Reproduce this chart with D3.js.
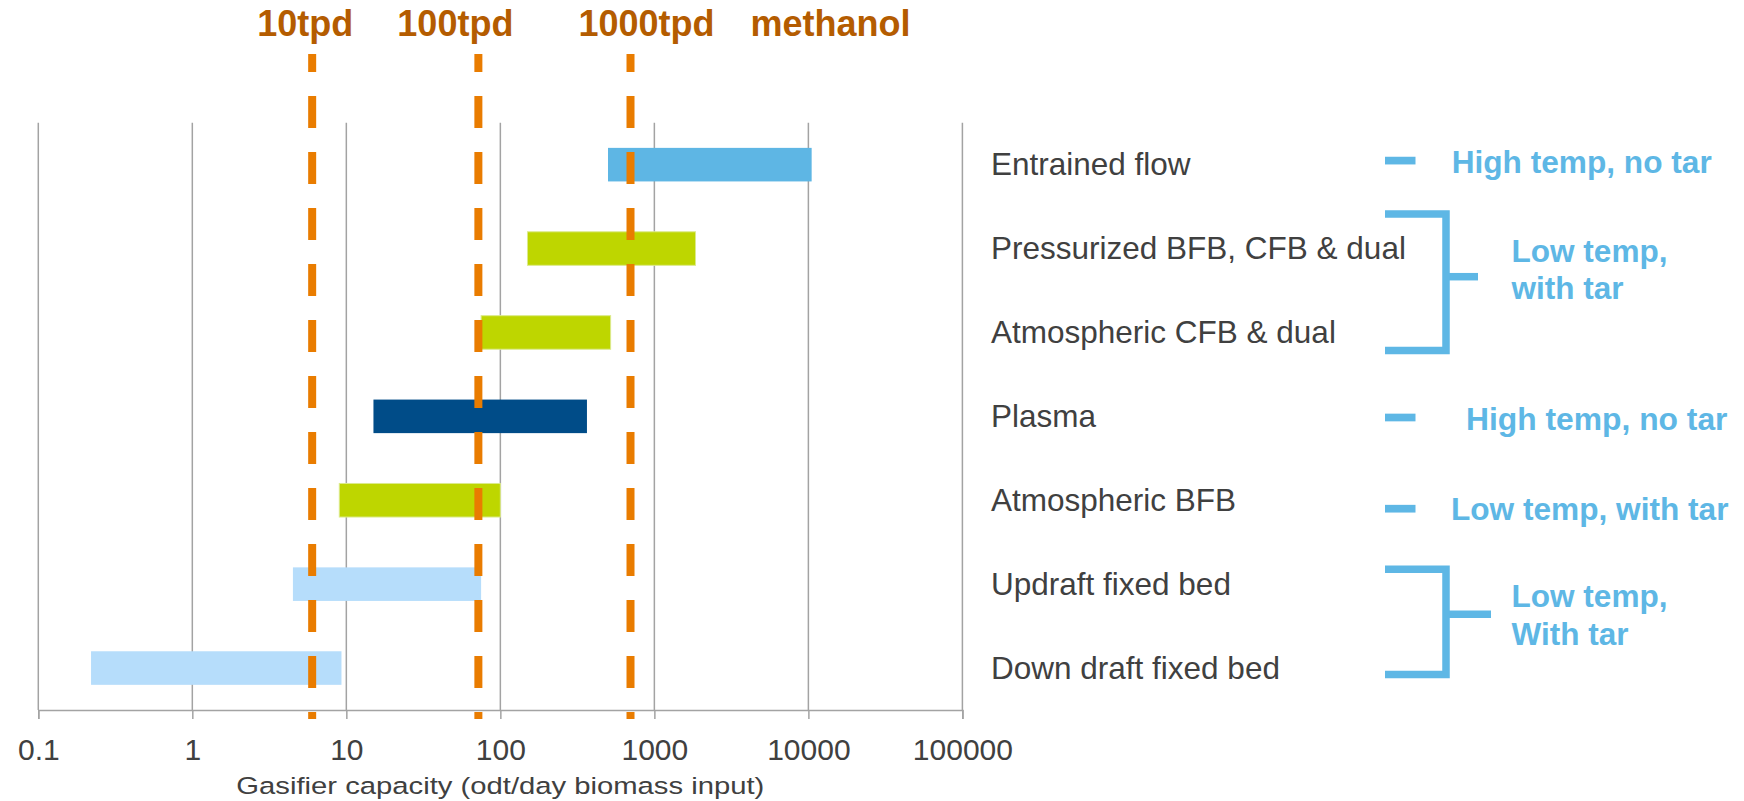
<!DOCTYPE html>
<html>
<head>
<meta charset="utf-8">
<script src="https://cdn.jsdelivr.net/npm/d3@7"></script>
<style>
  html, body { margin: 0; padding: 0; background: #ffffff; }
  svg { display: block; }
  text { font-family: "Liberation Sans", Arial, Helvetica, sans-serif; }
</style>
</head>
<body>
<svg id="chart" width="1744" height="801"></svg>
<script>
// Gasifier technologies and their capacity ranges (odt/day biomass input)
const categories = [
  "Entrained flow",
  "Pressurized BFB, CFB & dual",
  "Atmospheric CFB & dual",
  "Plasma",
  "Atmospheric BFB",
  "Updraft fixed bed",
  "Down draft fixed bed"
];
const capacityLow  = [500, 150, 75, 15, 9, 4.5, 0.22];
const capacityHigh = [10500, 1850, 520, 365, 100, 75, 9.3];
const gasifierKind = ["entrained", "fluid", "fluid", "plasma", "fluid", "fixed", "fixed"];

// Methanol plant sizes expressed as biomass input
const methanolInput  = [6, 72, 700];
const methanolLabels = ["10tpd", "100tpd", "1000tpd"];
const methanolHeader = "methanol";

// Log axis ticks
const tickValues = [0.1, 1, 10, 100, 1000, 10000, 100000];
const tickLabels = ["0.1", "1", "10", "100", "1000", "10000", "100000"];
const axisTitle = "Gasifier capacity (odt/day biomass input)";

// Tar / temperature grouping of the rows
const groupRows   = [[0, 0], [1, 2], [3, 3], [4, 4], [5, 6]];
const groupLabels = [
  ["High temp, no tar"],
  ["Low temp,", "with tar"],
  ["High temp, no tar"],
  ["Low temp, with tar"],
  ["Low temp,", "With tar"]
];

// ---- styling and layout ----
const kindColor = {
  entrained: "#5eb6e4",
  fluid: "#bed600",
  plasma: "#004c88",
  fixed: "#b6ddfb"
};
const gray = "#a3a3a3";
const textGray = "#404040";
const annBlue = "#5eb7e5";
const orangeLine = "#e97c00";
const orangeText = "#b45c00";

const plotLeft = 38.3, plotRight = 962.4, plotTop = 122.7, plotBottom = 710;

const svg = d3.select("#chart");

const x = d3.scaleLog().domain([0.1, 100000]).range([plotLeft, plotRight]);
const y = d3.scaleBand()
  .domain(categories)
  .range([plotTop, plotBottom])
  .paddingInner(0.6)
  .paddingOuter(0.3);
const rowCenter = i => y(categories[i]) + y.bandwidth() / 2;

// vertical gridlines
svg.append("g")
  .selectAll("line")
  .data(tickValues)
  .join("line")
  .attr("x1", d => x(d)).attr("x2", d => x(d))
  .attr("y1", plotTop).attr("y2", plotBottom)
  .attr("stroke", gray).attr("stroke-width", 1.5);

// bottom axis
const axis = svg.append("g")
  .attr("transform", `translate(0,${plotBottom})`)
  .call(d3.axisBottom(x).tickValues(tickValues).tickSize(9).tickFormat((d, i) => tickLabels[i]));
axis.select(".domain").attr("stroke", gray).attr("stroke-width", 1.5);
axis.selectAll(".tick line").attr("stroke", gray).attr("stroke-width", 1.5);
axis.selectAll(".tick text")
  .attr("y", 50).attr("dy", 0)
  .attr("fill", textGray)
  .style("font-size", "30px")
  .style("font-family", "'Liberation Sans', Arial, sans-serif");

// axis title
svg.append("text")
  .attr("x", (plotLeft + plotRight) / 2)
  .attr("y", 794)
  .attr("text-anchor", "middle")
  .attr("fill", textGray)
  .attr("textLength", 528)
  .attr("lengthAdjust", "spacingAndGlyphs")
  .style("font-size", "24.5px")
  .text(axisTitle);

// capacity range bars
svg.append("g")
  .selectAll("rect")
  .data(categories)
  .join("rect")
  .attr("x", (d, i) => x(capacityLow[i]))
  .attr("width", (d, i) => x(capacityHigh[i]) - x(capacityLow[i]))
  .attr("y", d => y(d))
  .attr("height", y.bandwidth())
  .attr("fill", (d, i) => kindColor[gasifierKind[i]])
  .attr("stroke", (d, i) => gasifierKind[i] === "fluid" ? "#dcea8c" : "none")
  .attr("stroke-width", 1);

// methanol plant size reference lines (dashed)
svg.append("g")
  .selectAll("line")
  .data(methanolInput)
  .join("line")
  .attr("x1", d => x(d)).attr("x2", d => x(d))
  .attr("y1", 54).attr("y2", 719)
  .attr("stroke", orangeLine)
  .attr("stroke-width", 8)
  .attr("stroke-dasharray", "32,24")
  .attr("stroke-dashoffset", 14);

// labels above the reference lines
const lineLabelShift = [-7, -23, 16];
svg.append("g")
  .selectAll("text")
  .data(methanolLabels)
  .join("text")
  .attr("x", (d, i) => x(methanolInput[i]) + lineLabelShift[i])
  .attr("y", 36)
  .attr("text-anchor", "middle")
  .attr("fill", orangeText)
  .style("font-size", "36px")
  .style("font-weight", "bold")
  .text(d => d);
svg.append("text")
  .attr("x", 830.5)
  .attr("y", 36)
  .attr("text-anchor", "middle")
  .attr("fill", orangeText)
  .style("font-size", "36px")
  .style("font-weight", "bold")
  .text(methanolHeader);

// row labels to the right of the plot
svg.append("g")
  .selectAll("text")
  .data(categories)
  .join("text")
  .attr("x", 991)
  .attr("y", (d, i) => rowCenter(i))
  .attr("dy", "0.34em")
  .attr("fill", textGray)
  .style("font-size", "31.5px")
  .text(d => d);

// group markers: single dash for one row, bracket for two rows
const markLeft = 1385, markJoin = 1446;
const groupLayout = [
  { dashY: 160.6, textX: 1451.7, baselines: [173.3], widths: [260] },
  { top: 214, bottom: 350.5, tickY: 276.7, tickEnd: 1478, textX: 1511.5, baselines: [262.3, 299.3], widths: [156, null] },
  { dashY: 417.5, textX: 1466, baselines: [430], widths: [261.5] },
  { dashY: 508.7, textX: 1451, baselines: [520], widths: [277.5] },
  { top: 569.2, bottom: 674.5, tickY: 614.3, tickEnd: 1491, textX: 1511.5, baselines: [606.7, 645], widths: [156, null] }
];

const ann = svg.append("g");
groupRows.forEach((rows, gi) => {
  const L = groupLayout[gi];
  if (rows[0] === rows[1]) {
    ann.append("line")
      .attr("x1", markLeft).attr("x2", markLeft + 30.5)
      .attr("y1", L.dashY).attr("y2", L.dashY)
      .attr("stroke", annBlue).attr("stroke-width", 7.7);
  } else {
    ann.append("path")
      .attr("d", `M${markLeft},${L.top}H${markJoin}V${L.bottom}H${markLeft}`)
      .attr("fill", "none")
      .attr("stroke", annBlue).attr("stroke-width", 7.5)
      .attr("stroke-linejoin", "miter");
    ann.append("line")
      .attr("x1", markJoin).attr("x2", L.tickEnd)
      .attr("y1", L.tickY).attr("y2", L.tickY)
      .attr("stroke", annBlue).attr("stroke-width", 7.5);
  }
  groupLabels[gi].forEach((line, li) => {
    const t = ann.append("text")
      .attr("x", L.textX)
      .attr("y", L.baselines[li])
      .attr("fill", annBlue)
      .style("font-size", "31.5px")
      .style("font-weight", "bold")
      .text(line);
    if (L.widths[li]) {
      t.attr("textLength", L.widths[li]).attr("lengthAdjust", "spacingAndGlyphs");
    }
  });
});
</script>
</body>
</html>
